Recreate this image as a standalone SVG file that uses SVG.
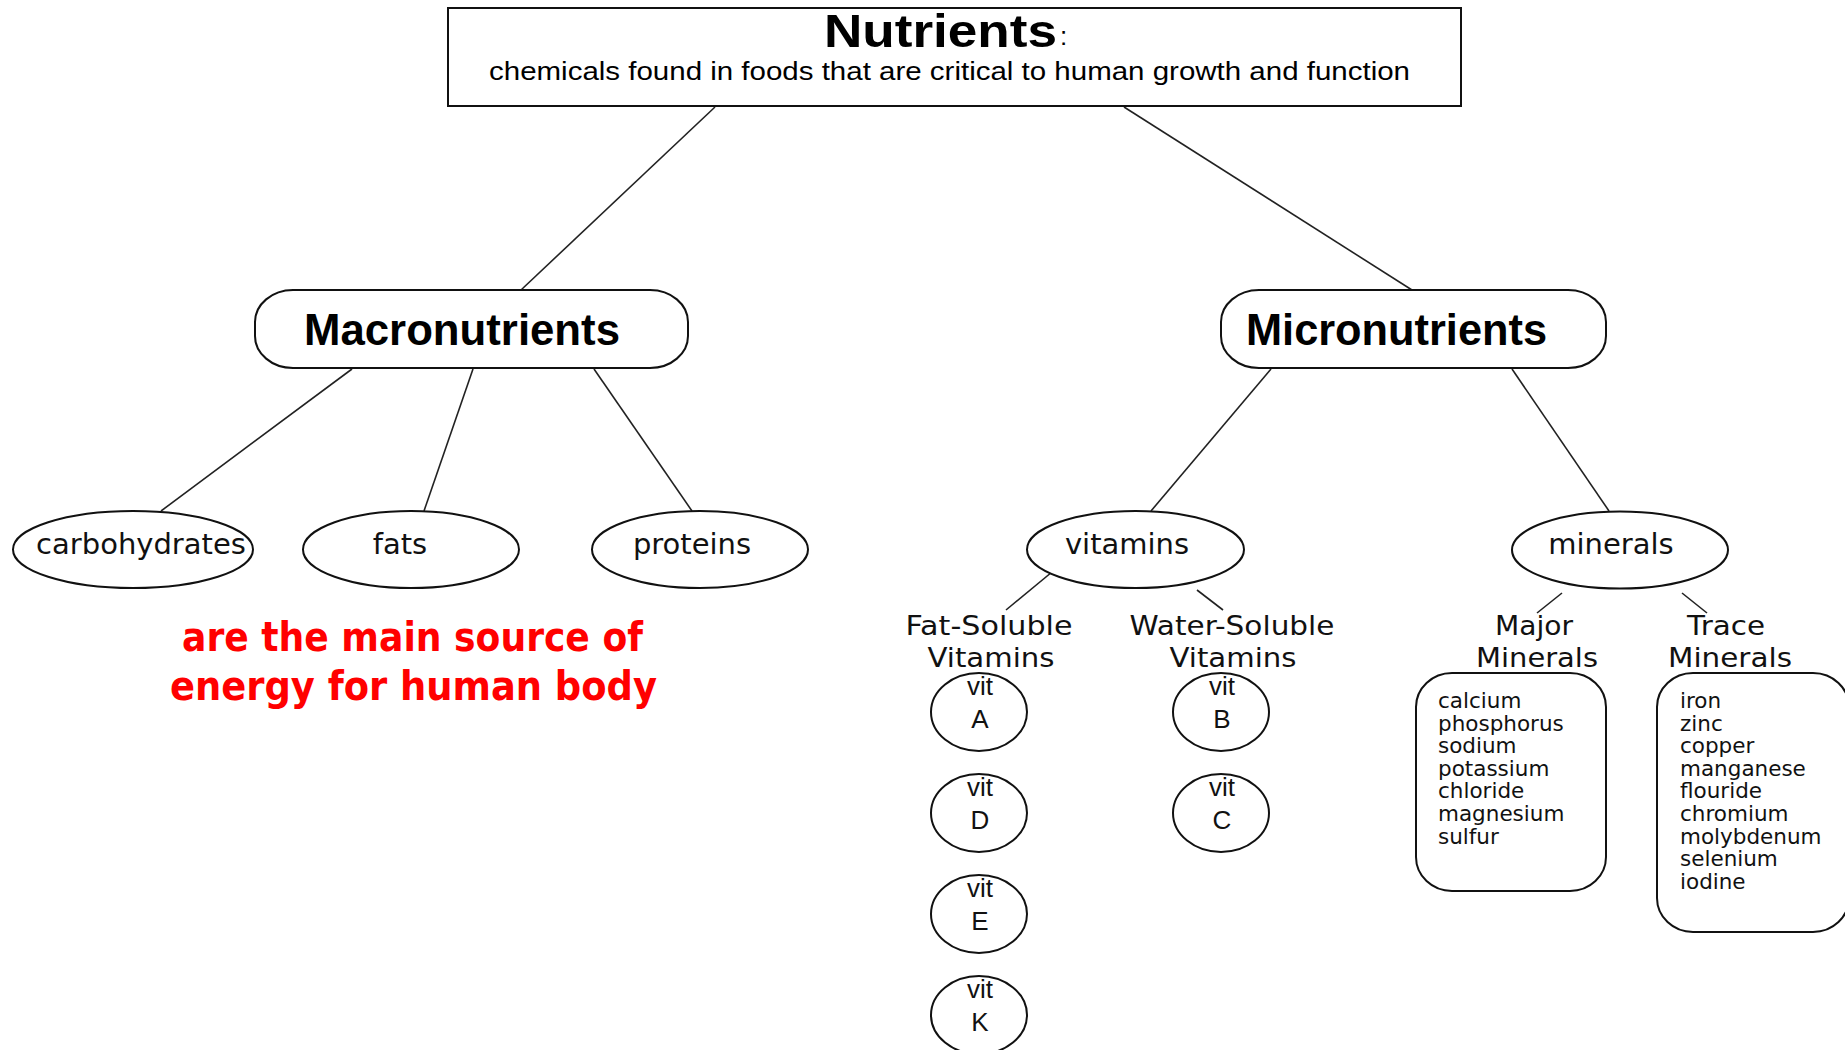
<svg xmlns="http://www.w3.org/2000/svg" width="1845" height="1050" viewBox="0 0 1845 1050">
<style>
.shape{fill:#fff;stroke:#111;stroke-width:2}
.conn line{stroke:#222;stroke-width:1.6}
.lbl{font-family:"DejaVu Sans",sans-serif;font-size:29px;fill:#111;text-anchor:middle}
.sub{font-family:"DejaVu Sans",sans-serif;font-size:27px;fill:#111;text-anchor:middle}
.vit{font-family:"Liberation Sans",Arial,sans-serif;font-size:26px;fill:#111;text-anchor:middle}
.big{font-family:"Liberation Sans",Arial,sans-serif;font-weight:bold;fill:#000}
.list{font-family:"DejaVu Sans",sans-serif;font-size:21.5px;fill:#111}
.red{font-family:"DejaVu Sans",sans-serif;font-weight:bold;font-size:40px;fill:#ff0000}
</style>
<rect width="1845" height="1050" fill="#fff"/>
<g id="connectors" class="conn">
<line x1="715" y1="107" x2="521" y2="290"/>
<line x1="1124" y1="107" x2="1412" y2="290"/>
<line x1="352" y1="369" x2="161" y2="511"/>
<line x1="473" y1="369" x2="424" y2="511"/>
<line x1="594" y1="369" x2="692" y2="511"/>
<line x1="1271" y1="369" x2="1151" y2="511"/>
<line x1="1512" y1="369" x2="1609" y2="511"/>
<line x1="1052" y1="572" x2="1006" y2="610"/>
<line x1="1197" y1="590" x2="1223" y2="610"/>
<line x1="1562" y1="593" x2="1537" y2="613"/>
<line x1="1682" y1="593" x2="1707" y2="613"/>
</g>
<g id="nutrients">
<rect class="shape" x="448" y="8" width="1013" height="98"/>
<text class="big" x="824" y="47" font-size="47" textLength="233" lengthAdjust="spacingAndGlyphs">Nutrients</text>
<text x="1060" y="45" font-family="Liberation Sans,Arial,sans-serif" font-size="26" fill="#000">:</text>
<text x="489" y="80" font-family="Liberation Sans,Arial,sans-serif" font-size="26" fill="#000" textLength="921" lengthAdjust="spacingAndGlyphs">chemicals found in foods that are critical to human growth and function</text>
</g>
<g id="macronutrients">
<rect class="shape" x="255" y="290" width="433" height="78" rx="38" ry="32"/>
<text class="big" x="304" y="345" font-size="44" textLength="316" lengthAdjust="spacingAndGlyphs">Macronutrients</text>
</g>
<g id="micronutrients">
<rect class="shape" x="1221" y="290" width="385" height="78" rx="38" ry="32"/>
<text class="big" x="1246" y="345" font-size="44" textLength="301" lengthAdjust="spacingAndGlyphs">Micronutrients</text>
</g>
<g id="carbohydrates">
<ellipse class="shape" cx="133" cy="549.5" rx="120" ry="38.5"/>
<text class="lbl" x="141" y="554">carbohydrates</text>
</g>
<g id="fats">
<ellipse class="shape" cx="411" cy="549.5" rx="108" ry="38.5"/>
<text class="lbl" x="400" y="554">fats</text>
</g>
<g id="proteins">
<ellipse class="shape" cx="700" cy="549.5" rx="108" ry="38.5"/>
<text class="lbl" x="692" y="554">proteins</text>
</g>
<g id="energy-note">
<text class="red" x="182" y="651" textLength="461" lengthAdjust="spacingAndGlyphs">are the main source of</text>
<text class="red" x="170" y="700" textLength="487" lengthAdjust="spacingAndGlyphs">energy for human body</text>
</g>
<g id="vitamins">
<ellipse class="shape" cx="1135.5" cy="549.5" rx="108.5" ry="38.5"/>
<text class="lbl" x="1127" y="554">vitamins</text>
</g>
<g id="minerals">
<ellipse class="shape" cx="1620" cy="550" rx="108" ry="38.5"/>
<text class="lbl" x="1611" y="554">minerals</text>
</g>
<g id="fat-soluble">
<text class="sub" x="989" y="635" textLength="167" lengthAdjust="spacingAndGlyphs">Fat-Soluble</text>
<text class="sub" x="991" y="667" textLength="127" lengthAdjust="spacingAndGlyphs">Vitamins</text>
</g>
<g id="water-soluble">
<text class="sub" x="1232" y="635" textLength="205" lengthAdjust="spacingAndGlyphs">Water-Soluble</text>
<text class="sub" x="1233" y="667" textLength="127" lengthAdjust="spacingAndGlyphs">Vitamins</text>
</g>
<g id="vit-a">
<ellipse class="shape" cx="979" cy="712" rx="48" ry="39"/>
<text class="vit" x="980" y="695">vit</text>
<text class="vit" x="980" y="728">A</text>
</g>
<g id="vit-d">
<ellipse class="shape" cx="979" cy="813" rx="48" ry="39"/>
<text class="vit" x="980" y="796">vit</text>
<text class="vit" x="980" y="829">D</text>
</g>
<g id="vit-e">
<ellipse class="shape" cx="979" cy="914" rx="48" ry="39"/>
<text class="vit" x="980" y="897">vit</text>
<text class="vit" x="980" y="930">E</text>
</g>
<g id="vit-k">
<ellipse class="shape" cx="979" cy="1015" rx="48" ry="39"/>
<text class="vit" x="980" y="998">vit</text>
<text class="vit" x="980" y="1031">K</text>
</g>
<g id="vit-b">
<ellipse class="shape" cx="1221" cy="712" rx="48" ry="39"/>
<text class="vit" x="1222" y="695">vit</text>
<text class="vit" x="1222" y="728">B</text>
</g>
<g id="vit-c">
<ellipse class="shape" cx="1221" cy="813" rx="48" ry="39"/>
<text class="vit" x="1222" y="796">vit</text>
<text class="vit" x="1222" y="829">C</text>
</g>
<g id="major-minerals">
<text class="sub" x="1534" y="635" textLength="78" lengthAdjust="spacingAndGlyphs">Major</text>
<text class="sub" x="1537" y="667" textLength="122" lengthAdjust="spacingAndGlyphs">Minerals</text>
<rect class="shape" x="1416" y="673" width="190" height="218" rx="36" ry="34"/>
<text class="list" x="1438" y="708">calcium</text>
<text class="list" x="1438" y="730.6">phosphorus</text>
<text class="list" x="1438" y="753.2">sodium</text>
<text class="list" x="1438" y="775.8">potassium</text>
<text class="list" x="1438" y="798.4">chloride</text>
<text class="list" x="1438" y="821">magnesium</text>
<text class="list" x="1438" y="843.6">sulfur</text>
</g>
<g id="trace-minerals">
<text class="sub" x="1726" y="635" textLength="78" lengthAdjust="spacingAndGlyphs">Trace</text>
<text class="sub" x="1730" y="667" textLength="124" lengthAdjust="spacingAndGlyphs">Minerals</text>
<rect class="shape" x="1657" y="673" width="192" height="259" rx="36" ry="34"/>
<text class="list" x="1680" y="708">iron</text>
<text class="list" x="1680" y="730.6">zinc</text>
<text class="list" x="1680" y="753.2">copper</text>
<text class="list" x="1680" y="775.8">manganese</text>
<text class="list" x="1680" y="798.4">flouride</text>
<text class="list" x="1680" y="821">chromium</text>
<text class="list" x="1680" y="843.6">molybdenum</text>
<text class="list" x="1680" y="866.2">selenium</text>
<text class="list" x="1680" y="888.8">iodine</text>
</g>
</svg>
